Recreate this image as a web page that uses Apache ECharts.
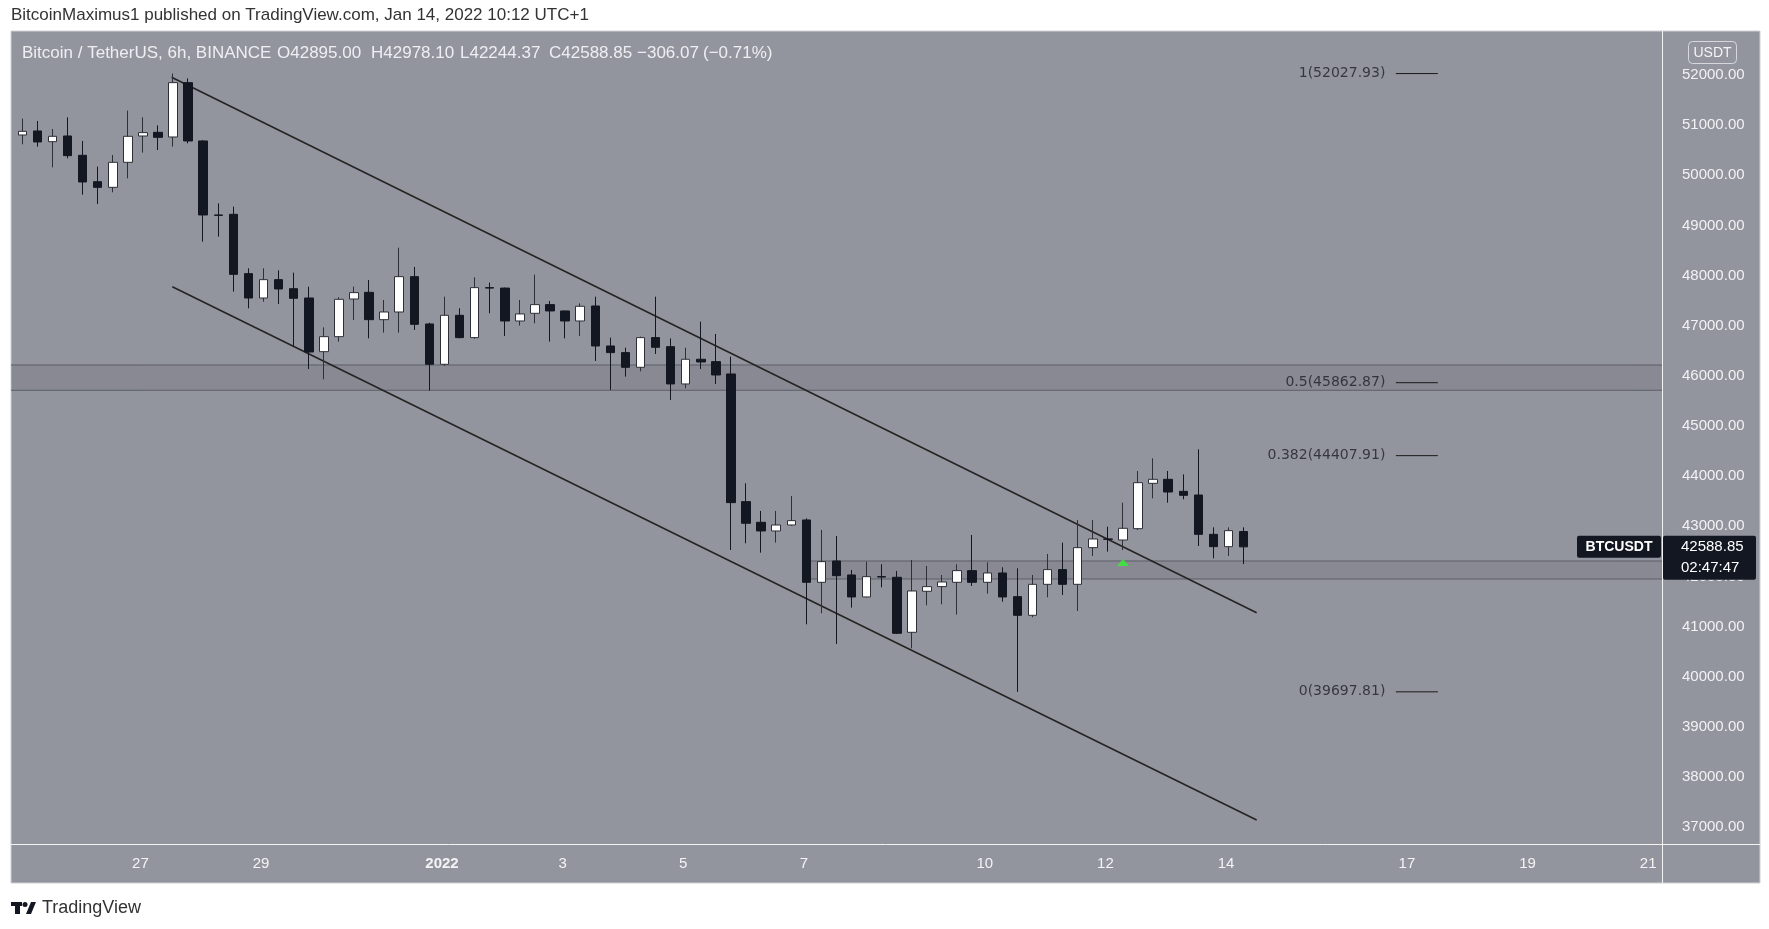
<!DOCTYPE html>
<html><head><meta charset="utf-8">
<script src="https://cdn.jsdelivr.net/npm/echarts@6/dist/echarts.min.js"></script>
<style>html,body{margin:0;padding:0;background:#fff;}#c{width:1769px;height:929px;}</style>
</head><body><div id="c"></div><script>
// ---- data ----
const times = [
'2021-12-25 01:00','2021-12-25 07:00','2021-12-25 13:00','2021-12-25 19:00',
'2021-12-26 01:00','2021-12-26 07:00','2021-12-26 13:00','2021-12-26 19:00',
'2021-12-27 01:00','2021-12-27 07:00','2021-12-27 13:00','2021-12-27 19:00',
'2021-12-28 01:00','2021-12-28 07:00','2021-12-28 13:00','2021-12-28 19:00',
'2021-12-29 01:00','2021-12-29 07:00','2021-12-29 13:00','2021-12-29 19:00',
'2021-12-30 01:00','2021-12-30 07:00','2021-12-30 13:00','2021-12-30 19:00',
'2021-12-31 01:00','2021-12-31 07:00','2021-12-31 13:00','2021-12-31 19:00',
'2022-01-01 01:00','2022-01-01 07:00','2022-01-01 13:00','2022-01-01 19:00',
'2022-01-02 01:00','2022-01-02 07:00','2022-01-02 13:00','2022-01-02 19:00',
'2022-01-03 01:00','2022-01-03 07:00','2022-01-03 13:00','2022-01-03 19:00',
'2022-01-04 01:00','2022-01-04 07:00','2022-01-04 13:00','2022-01-04 19:00',
'2022-01-05 01:00','2022-01-05 07:00','2022-01-05 13:00','2022-01-05 19:00',
'2022-01-06 01:00','2022-01-06 07:00','2022-01-06 13:00','2022-01-06 19:00',
'2022-01-07 01:00','2022-01-07 07:00','2022-01-07 13:00','2022-01-07 19:00',
'2022-01-08 01:00','2022-01-08 07:00','2022-01-08 13:00','2022-01-08 19:00',
'2022-01-09 01:00','2022-01-09 07:00','2022-01-09 13:00','2022-01-09 19:00',
'2022-01-10 01:00','2022-01-10 07:00','2022-01-10 13:00','2022-01-10 19:00',
'2022-01-11 01:00','2022-01-11 07:00','2022-01-11 13:00','2022-01-11 19:00',
'2022-01-12 01:00','2022-01-12 07:00','2022-01-12 13:00','2022-01-12 19:00',
'2022-01-13 01:00','2022-01-13 07:00','2022-01-13 13:00','2022-01-13 19:00',
'2022-01-14 01:00','2022-01-14 07:00'
];
const opens = [50803,50883,50670,50783,50398,49872,49759,50258,50783,50856,
50763,51847,50684,49208,49221,48038,47552,47918,47738,47552,
46482,46781,47532,47665,47120,47273,47978,47034,46230,47207,
46762,47759,47750,47094,47247,47420,47294,47094,47393,46595,
46463,46170,46762,46582,45838,46330,46283,46037,43491,43079,
42906,43025,43125,41882,42307,42028,41590,41995,41982,40885,
41703,41796,41882,42115,41882,42068,41596,41224,41842,42135,
41842,42573,42746,42726,42952,43856,43936,43696,43623,42839,
42593,42895.00];
const highs = [51129,51082,50923,51156,50684,50172,50404,51289,51156,50996,
52027.93,51933,50700,49440,49374,48144,48144,48104,48058,47778,
46967,47566,47778,47911,47512,48556,48171,47060,47579,47347,
47965,47859,47760,47513,48018,47493,47300,47446,47579,46762,
46562,46782,47579,46748,46562,47081,46835,46383,43857,43305,
43305,43604,43158,42926,42806,42128,42294,42241,42108,42327,
42208,42028,42241,42826,42281,42181,42161,42028,42447,42673,
43125,43125,42992,43470,44102,44354,44102,44035,44534,42978,
42978,42978.10];
const lows = [50617,50571,50158,50338,49613,49427,49660,49939,50451,50504,
50571,50637,48676,48776,47679,47346,47479,47433,46595,46136,
45930,46681,47114,46748,46861,46861,46914,45705,46200,46748,
46740,47247,46795,47001,47048,46682,46748,46795,46296,45718,
45984,46090,46436,45519,45751,46137,45838,42527,42660,42474,
42673,43010,41044,41264,40652,41377,41580,41782,40850,40566,
41423,41443,41237,41809,41656,41496,39697.81,41184,41583,41629,
41310,42407,42494,42526,42925,43557,43470,43537,42606,42360,
42407,42244.37];
const closes = [50876,50664,50777,50391,49866,49759,50258,50777,50850,50757,
51847,50684,49208,49200,48024,47552,47918,47732,47546,46475,
46781,47526,47659,47120,47273,47978,47027,46230,47207,46762,
47759,47750,47094,47234,47420,47294,47094,47387,46595,46463,
46170,46762,46569,45838,46330,46276,46017,43471,43059,42906,
43025,43112,41882,42294,42015,41590,41995,41988,40865,41709,
41796,41889,42115,41882,42068,41590,41224,41842,42135,41842,
42573,42746,42740,42959,43869,43936,43683,43617,42839,42593,
42912,42588.85];

const priceTicks = [37000,38000,39000,40000,41000,42000,43000,44000,45000,46000,47000,48000,49000,50000,51000,52000];
const timeTickDates = ['2021-12-27 00:00','2021-12-29 00:00','2022-01-01 00:00','2022-01-03 00:00','2022-01-05 00:00','2022-01-07 00:00','2022-01-10 00:00','2022-01-12 00:00','2022-01-14 00:00','2022-01-17 00:00','2022-01-19 00:00','2022-01-21 00:00'];
const timeTickLabels = ['27','29','2022','3','5','7','10','12','14','17','19','21'];

const upperChannel = [['2021-12-27 12:24', 51954], ['2022-01-14 12:12', 41276]];
const lowerChannel = [['2021-12-27 12:42', 47778], ['2022-01-14 12:12', 37142]];
const zoneUpper = [45712, 46216];
const zoneLower = [41948, 42307];
const zoneLowerStart = '2022-01-07 02:36';
const fibRatios = ['1', '0.5', '0.382', '0'];
const fibPrices = [52027.93, 45862.87, 44407.91, 39697.81];
const fibSpan = ['2022-01-16 19:36', '2022-01-17 12:18'];
const breakoutMark = ['2022-01-12 07:00', 42277];
const viewRange = ['2021-12-24 20:30', '2022-01-21 05:30'];
const priceRange = [36663, 52877];
const lastClose = 42588.85;

// ---- helpers ----
const H = s => { const [d, t] = s.split(' '); const [Y, M, D] = d.split('-').map(Number); const [h, m] = t.split(':').map(Number); return (Date.UTC(Y, M - 1, D, h, m) - Date.UTC(2022, 0, 1, 0, 0)) / 3600000; };
const xMin = H(viewRange[0]), xMax = H(viewRange[1]);
const tickHours = timeTickDates.map(H);
const candleData = times.map((t, i) => [H(t), opens[i], closes[i], lows[i], highs[i]]);

const FONT = '"Liberation Sans", Arial, sans-serif';
function seg(name, pts, color, width, z) {
  return { name, type: 'line', data: pts, symbol: 'none', silent: true, z: z || 3, animation: false,
    lineStyle: { color, width }, emphasis: { disabled: true } };
}

const series = [];
// zones
const upperFill = seg('zoneU', [[xMin, zoneUpper[1]], [xMax, zoneUpper[1]]], '#5c5f68', 1, 1);
upperFill.markArea = { silent: true, itemStyle: { color: 'rgba(40,42,52,0.10)' },
  data: [[{ coord: [xMin, zoneUpper[0]] }, { coord: [xMax, zoneUpper[1]] }]] };
series.push(upperFill);
series.push(seg('zoneU2', [[xMin, zoneUpper[0]], [xMax, zoneUpper[0]]], '#5c5f68', 1, 1));
const lowerFill = seg('zoneL', [[H(zoneLowerStart), zoneLower[1]], [xMax, zoneLower[1]]], '#5c5f68', 1, 1);
lowerFill.markArea = { silent: true, itemStyle: { color: 'rgba(40,42,52,0.10)' },
  data: [[{ coord: [H(zoneLowerStart), zoneLower[0]] }, { coord: [xMax, zoneLower[1]] }]] };
series.push(lowerFill);
series.push(seg('zoneL2', [[H(zoneLowerStart), zoneLower[0]], [xMax, zoneLower[0]]], '#5c5f68', 1, 1));
// channel
series.push(seg('upper', upperChannel.map(p => [H(p[0]), p[1]]), '#242424', 1.6, 4));
series.push(seg('lower', lowerChannel.map(p => [H(p[0]), p[1]]), '#242424', 1.6, 4));
// fib segments
fibPrices.forEach((p, i) => series.push(seg('fib' + i, [[H(fibSpan[0]), p], [H(fibSpan[1]), p]], '#1a1a1a', 1, 4)));
series.push({ type: 'scatter', silent: true, z: 4, symbol: 'circle', symbolSize: 1, itemStyle: { color: 'rgba(0,0,0,0)' },
  data: fibPrices.map((p, i) => [H(fibSpan[0]), p, fibRatios[i] + '(' + p.toFixed(2) + ')']),
  label: { show: true, position: 'left', distance: 10, formatter: q => q.value[2],
    color: '#1e1f24', fontSize: 14, fontFamily: '"DejaVu Sans", sans-serif' } });
// candles
series.push({ type: 'candlestick', z: 6, barWidth: 9, data: candleData, encode: { x: 0, y: [1, 2, 3, 4] },
  itemStyle: { color: '#ffffff', color0: '#131722', borderColor: '#2e3038', borderColor0: '#131722', borderWidth: 1 } });
// breakout marker
series.push({ type: 'scatter', z: 7, silent: true, symbol: 'triangle', symbolSize: [12, 7],
  itemStyle: { color: '#35f235' }, data: [[H(breakoutMark[0]), breakoutMark[1]]] });

const chart = echarts.init(document.getElementById('c'), null, { renderer: 'canvas' });
chart.setOption({
  animation: false,
  backgroundColor: '#ffffff',
  grid: { left: 11, right: 107, top: 31, bottom: 85, containLabel: false },
  xAxis: { type: 'value', min: xMin, max: xMax, splitLine: { show: false }, axisLine: { show: false }, axisTick: { show: false },
    axisLabel: { customValues: tickHours, margin: 12, color: '#f4f4f6', fontSize: 15, fontFamily: FONT,
      formatter: v => { const i = tickHours.findIndex(h => Math.abs(h - v) < 0.01); const s = i >= 0 ? timeTickLabels[i] : ''; return s === '2022' ? '{b|2022}' : s; },
      rich: { b: { fontWeight: 'bold', color: '#f4f4f6', fontSize: 15, fontFamily: FONT } } } },
  yAxis: { type: 'value', position: 'right', min: priceRange[0], max: priceRange[1], scale: true,
    splitLine: { show: false }, axisLine: { show: false }, axisTick: { show: false },
    axisLabel: { customValues: priceTicks, formatter: v => v.toFixed(2), margin: 20, color: '#f2f2f4', fontSize: 15, fontFamily: FONT } },
  series
});

const yC = chart.convertToPixel({ yAxisIndex: 0 }, lastClose);
const txt = (x, y, text, fill, size, extra) => Object.assign({ type: 'text', x, y, z: 120,
  style: { text, fill, font: size + 'px ' + FONT, textAlign: 'left', textVerticalAlign: 'middle' } }, extra || {});
const headerColor = '#eeeff2';
chart.setOption({ graphic: [
  { type: 'rect', z: -100, shape: { x: 11, y: 31, width: 1749, height: 852 }, style: { fill: '#93959e', stroke: '#cfd0d5', lineWidth: 1 } },
  { type: 'line', z: 110, shape: { x1: 1662.5, y1: 31, x2: 1662.5, y2: 883 }, style: { stroke: '#f2f3f5', lineWidth: 1 } },
  { type: 'line', z: 110, shape: { x1: 11, y1: 844.5, x2: 1760, y2: 844.5 }, style: { stroke: '#f2f3f5', lineWidth: 1 } },
  txt(11, 15, 'BitcoinMaximus1 published on TradingView.com, Jan 14, 2022 10:12 UTC+1', '#333333', 17),
  txt(22, 53, 'Bitcoin / TetherUS, 6h, BINANCE', headerColor, 17),
  txt(277, 53, 'O42895.00', headerColor, 17),
  txt(371, 53, 'H42978.10', headerColor, 17),
  txt(460, 53, 'L42244.37', headerColor, 17),
  txt(549, 53, 'C42588.85', headerColor, 17),
  txt(637, 53, '\u2212306.07', headerColor, 17),
  txt(703, 53, '(\u22120.71%)', headerColor, 17),
  { type: 'rect', z: 120, shape: { x: 1688.5, y: 41.5, width: 48, height: 22, r: 4 }, style: { fill: 'none', stroke: '#d6d8de', lineWidth: 1 } },
  { type: 'text', z: 121, x: 1712.5, y: 53, style: { text: 'USDT', fill: '#f4f4f6', font: '14px ' + FONT, textAlign: 'center', textVerticalAlign: 'middle' } },
  // last price labels
  { type: 'rect', z: 130, shape: { x: 1577, y: yC - 11, width: 84, height: 22, r: 2 }, style: { fill: '#131722' } },
  { type: 'text', z: 131, x: 1619, y: yC, style: { text: 'BTCUSDT', fill: '#ffffff', font: 'bold 14px ' + FONT, textAlign: 'center', textVerticalAlign: 'middle' } },
  { type: 'rect', z: 130, shape: { x: 1663, y: yC - 11, width: 93, height: 44, r: 2 }, style: { fill: '#131722' } },
  { type: 'text', z: 131, x: 1681, y: yC, style: { text: lastClose.toFixed(2), fill: '#ffffff', font: '15px ' + FONT, textAlign: 'left', textVerticalAlign: 'middle' } },
  { type: 'text', z: 131, x: 1681, y: yC + 21, style: { text: '02:47:47', fill: '#ffffff', font: '15px ' + FONT, textAlign: 'left', textVerticalAlign: 'middle' } },
  // TradingView footer logo
  { type: 'rect', z: 120, shape: { x: 11, y: 902, width: 11, height: 4 }, style: { fill: '#131722' } },
  { type: 'rect', z: 120, shape: { x: 15, y: 902, width: 5, height: 12 }, style: { fill: '#131722' } },
  { type: 'circle', z: 120, shape: { cx: 25, cy: 904.5, r: 2.5 }, style: { fill: '#131722' } },
  { type: 'polygon', z: 120, shape: { points: [[26, 914], [31, 902], [36, 902], [31, 914]] }, style: { fill: '#131722' } },
  txt(42, 908, 'TradingView', '#333333', 18)
] });
</script></body></html>
